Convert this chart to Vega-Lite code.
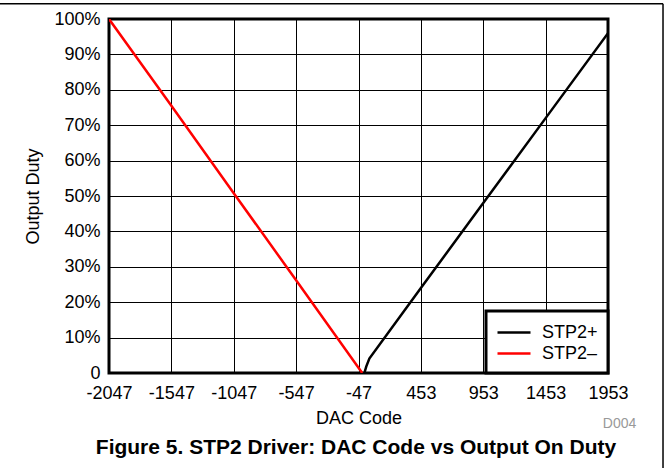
{
  "$schema": "https://vega.github.io/schema/vega-lite/v6.json",
  "width": 499,
  "height": 354,
  "autosize": {"type": "none"},
  "padding": {"left": 109, "top": 19, "right": 61, "bottom": 95},
  "background": "white",
  "layer": [
    {
      "data": {
        "values": [
          {"code": -2047, "duty": 100, "series": "STP2–"},
          {"code": -1547, "duty": 75.5, "series": "STP2–"},
          {"code": -1047, "duty": 50.8, "series": "STP2–"},
          {"code": -547, "duty": 26.2, "series": "STP2–"},
          {"code": -17, "duty": 0, "series": "STP2–"},
          {"code": 0, "duty": 0, "series": "STP2+"},
          {"code": 15, "duty": 1.8, "series": "STP2+"},
          {"code": 40, "duty": 4.1, "series": "STP2+"},
          {"code": 453, "duty": 24, "series": "STP2+"},
          {"code": 953, "duty": 48, "series": "STP2+"},
          {"code": 1453, "duty": 72, "series": "STP2+"},
          {"code": 1953, "duty": 96, "series": "STP2+"}
        ]
      },
      "mark": {"type": "line", "strokeWidth": 2.5, "clip": true},
      "encoding": {
        "x": {
          "field": "code",
          "type": "quantitative",
          "scale": {"domain": [-2047, 1953], "nice": false, "zero": false},
          "axis": {
            "title": "DAC Code",
            "values": [-2047, -1547, -1047, -547, -47, 453, 953, 1453, 1953],
            "labelExpr": "datum.value + ''",
            "labelFlush": false,
            "labelOverlap": false,
            "labelPadding": 11,
            "titlePadding": 7
          }
        },
        "y": {
          "field": "duty",
          "type": "quantitative",
          "scale": {"domain": [0, 100], "nice": false},
          "axis": {
            "title": "Output Duty",
            "values": [0, 10, 20, 30, 40, 50, 60, 70, 80, 90, 100],
            "labelExpr": "datum.value == 0 ? '0' : datum.value + '%'",
            "labelFlush": false,
            "labelOverlap": false,
            "labelPadding": 9,
            "titlePadding": 11
          }
        },
        "color": {
          "field": "series",
          "type": "nominal",
          "scale": {"domain": ["STP2+", "STP2–"], "range": ["#000000", "#FF0000"]},
          "legend": {
            "title": null,
            "orient": "bottom-right",
            "offset": 0,
            "padding": 10,
            "fillColor": "white",
            "strokeColor": "black",
            "symbolType": "M-1,0H2.3",
            "symbolSize": 400,
            "symbolStrokeWidth": 2.5,
            "labelFontSize": 18,
            "labelOffset": 23,
            "rowPadding": 0,
            "labelColor": "black",
            "labelFont": "Liberation Sans"
          }
        },
        "order": {"field": "code", "type": "quantitative"}
      }
    },
    {
      "data": {"values": [{"note": "D004"}]},
      "mark": {"type": "text", "align": "right", "baseline": "middle", "fontSize": 14, "color": "#999999", "font": "Liberation Sans"},
      "encoding": {
        "x": {"datum": 2180, "type": "quantitative", "axis": {"title": "DAC Code", "values": [-2047, -1547, -1047, -547, -47, 453, 953, 1453, 1953], "labelExpr": "datum.value + ''", "labelFlush": false, "labelOverlap": false, "labelPadding": 11, "titlePadding": 7}},
        "y": {"datum": -14.4, "type": "quantitative", "axis": {"title": "Output Duty", "values": [0, 10, 20, 30, 40, 50, 60, 70, 80, 90, 100], "labelExpr": "datum.value == 0 ? '0' : datum.value + '%'", "labelFlush": false, "labelOverlap": false, "labelPadding": 9, "titlePadding": 11}},
        "text": {"field": "note"}
      }
    },
    {
      "data": {"values": [{"caption": "Figure 5. STP2 Driver: DAC Code vs Output On Duty"}]},
      "mark": {"type": "text", "align": "center", "baseline": "middle", "fontSize": 21, "fontWeight": "bold", "color": "black", "font": "Liberation Sans"},
      "encoding": {
        "x": {"datum": -67, "type": "quantitative", "axis": {"title": "DAC Code", "values": [-2047, -1547, -1047, -547, -47, 453, 953, 1453, 1953], "labelExpr": "datum.value + ''", "labelFlush": false, "labelOverlap": false, "labelPadding": 11, "titlePadding": 7}},
        "y": {"datum": -21.2, "type": "quantitative", "axis": {"title": "Output Duty", "values": [0, 10, 20, 30, 40, 50, 60, 70, 80, 90, 100], "labelExpr": "datum.value == 0 ? '0' : datum.value + '%'", "labelFlush": false, "labelOverlap": false, "labelPadding": 9, "titlePadding": 11}},
        "text": {"field": "caption"}
      }
    },
    {
      "data": {"values": [{"frame": "page"}]},
      "mark": {"type": "rule", "color": "black", "strokeWidth": 1.5},
      "encoding": {
        "x": {"datum": 2394, "type": "quantitative", "axis": {"title": "DAC Code", "values": [-2047, -1547, -1047, -547, -47, 453, 953, 1453, 1953], "labelExpr": "datum.value + ''", "labelFlush": false, "labelOverlap": false, "labelPadding": 11, "titlePadding": 7}},
        "y": {"datum": 104.3, "type": "quantitative", "axis": {"title": "Output Duty", "values": [0, 10, 20, 30, 40, 50, 60, 70, 80, 90, 100], "labelExpr": "datum.value == 0 ? '0' : datum.value + '%'", "labelFlush": false, "labelOverlap": false, "labelPadding": 9, "titlePadding": 11}},
        "y2": {"datum": -40}
      }
    },
    {
      "data": {"values": [{"frame": "page"}]},
      "mark": {"type": "rule", "color": "black", "strokeWidth": 1.5},
      "encoding": {
        "x": {"datum": -3000, "type": "quantitative", "axis": {"title": "DAC Code", "values": [-2047, -1547, -1047, -547, -47, 453, 953, 1453, 1953], "labelExpr": "datum.value + ''", "labelFlush": false, "labelOverlap": false, "labelPadding": 11, "titlePadding": 7}},
        "x2": {"datum": 2394},
        "y": {"datum": 104.3, "type": "quantitative", "axis": {"title": "Output Duty", "values": [0, 10, 20, 30, 40, 50, 60, 70, 80, 90, 100], "labelExpr": "datum.value == 0 ? '0' : datum.value + '%'", "labelFlush": false, "labelOverlap": false, "labelPadding": 9, "titlePadding": 11}}
      }
    }
  ],
  "config": {
    "font": "Liberation Sans",
    "view": {"stroke": "black", "strokeWidth": 3},
    "axis": {
      "labelFont": "Liberation Sans",
      "titleFont": "Liberation Sans",
      "labelFontSize": 18,
      "titleFontSize": 18,
      "titleFontWeight": "normal",
      "labelColor": "black",
      "titleColor": "black",
      "grid": true,
      "gridColor": "black",
      "gridWidth": 1,
      "gridOpacity": 1,
      "ticks": false,
      "domain": false
    },
    "legend": {"strokeWidth": 3}
  }
}
